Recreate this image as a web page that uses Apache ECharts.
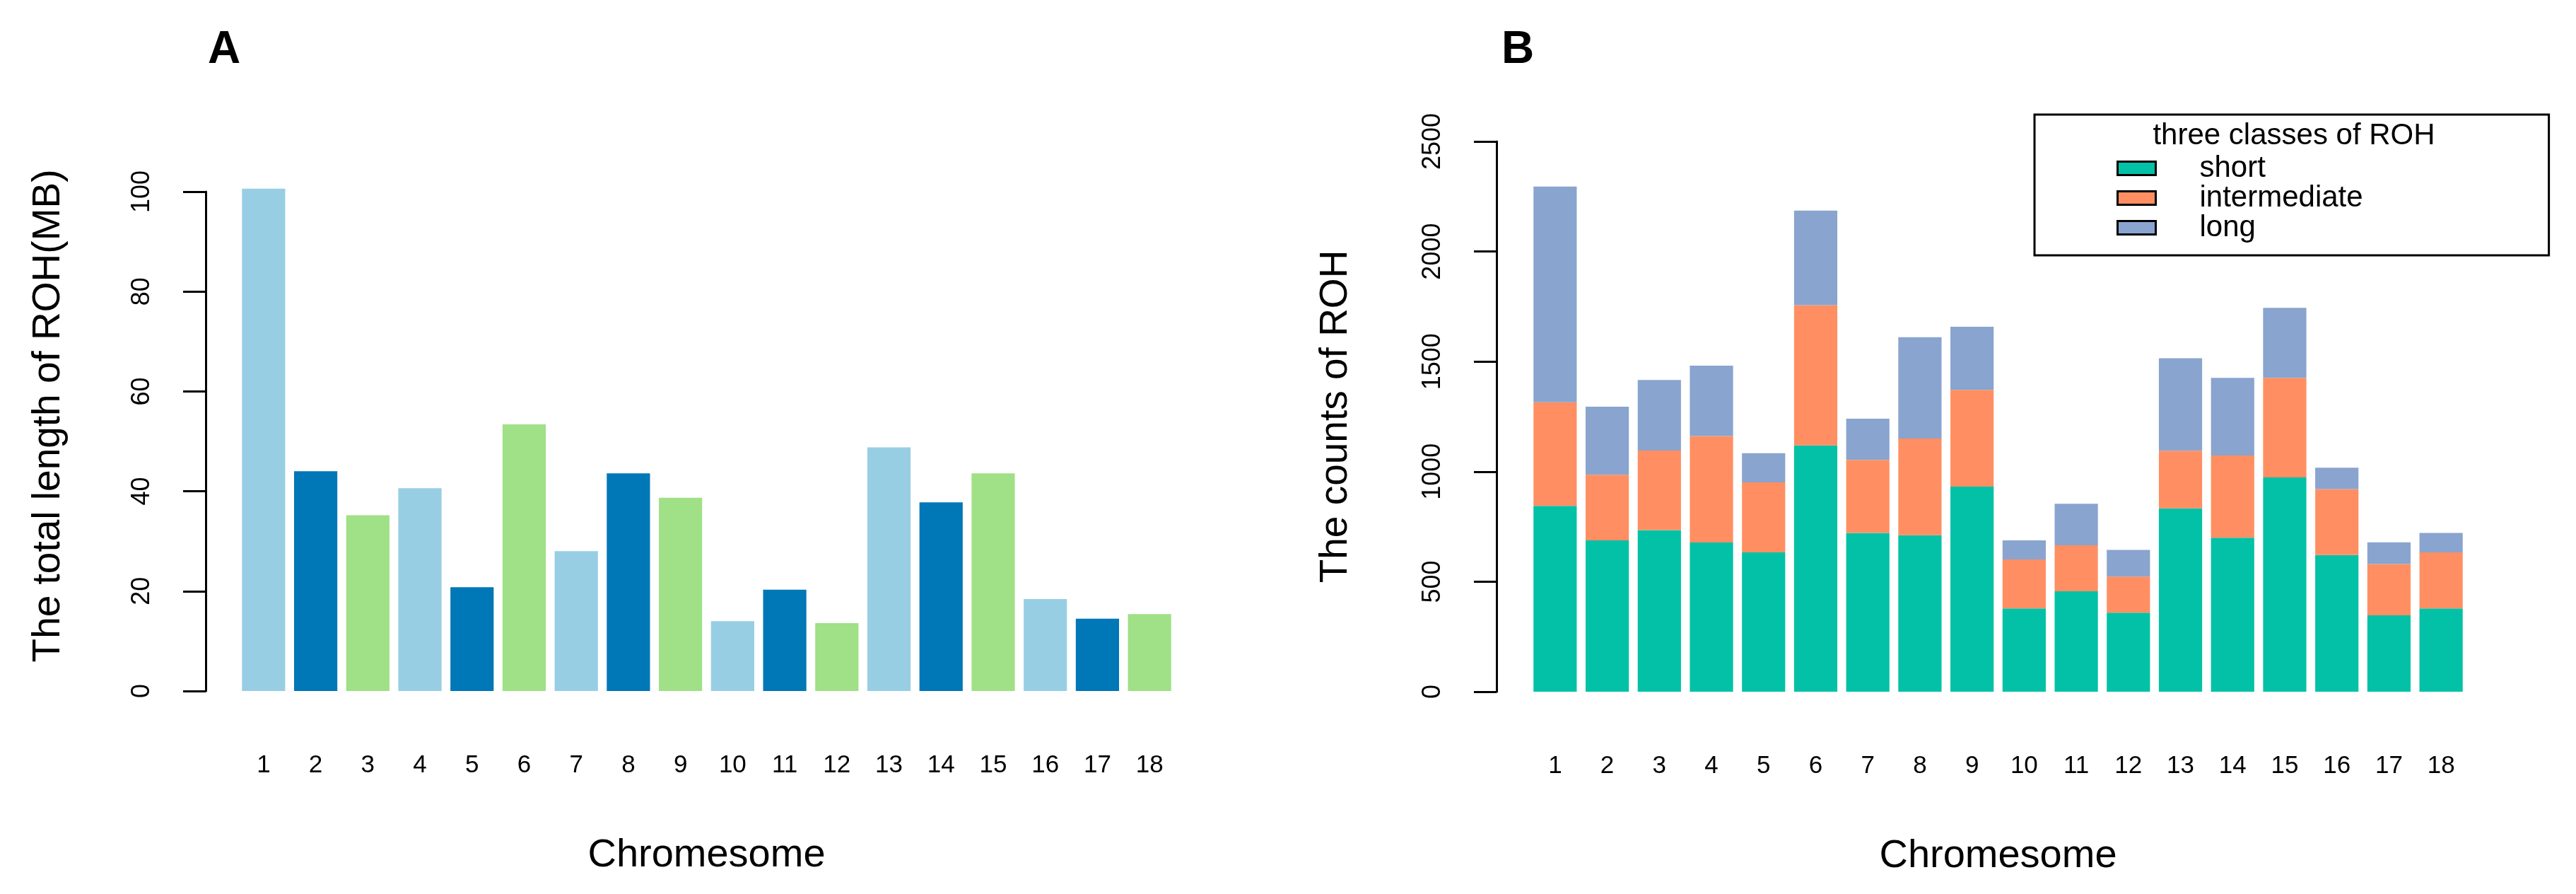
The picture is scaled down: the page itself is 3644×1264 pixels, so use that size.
<!DOCTYPE html>
<html>
<head>
<meta charset="utf-8">
<script src="https://cdn.jsdelivr.net/npm/echarts@6/dist/echarts.min.js"></script>
<style>
html,body{margin:0;padding:0;background:#fff;}
#chart{width:3644px;height:1264px;}
</style>
</head>
<body>
<div id="chart"></div>
<script>
// ---- data ----
const chromosomes = ['1','2','3','4','5','6','7','8','9','10','11','12','13','14','15','16','17','18'];
const totalLengthMB = [100.6, 44.0, 35.2, 40.6, 20.8, 53.4, 28.0, 43.6, 38.7, 14.0, 20.3, 13.6, 48.8, 37.8, 43.6, 18.4, 14.5, 15.4];
const colorsA = ['#98CEE4', '#0077B6', '#A0E086'];
const classNames = ['short', 'intermediate', 'long'];
const shortCounts = [844, 688, 734, 678, 633, 1119, 721, 711, 932, 378, 456, 359, 833, 700, 974, 621, 347, 378];
const intermediateCounts = [471, 298, 362, 484, 318, 637, 332, 439, 439, 223, 209, 164, 262, 373, 452, 300, 233, 255];
const longCounts = [980, 309, 320, 319, 133, 430, 187, 461, 287, 87, 189, 121, 420, 353, 318, 97, 99, 88];
const colorsB = ['#02C1A6', '#FF8F62', '#89A4CE'];
const yTicksA = {min: 0, max: 100, interval: 20};
const yTicksB = {min: 0, max: 2500, interval: 500};

const FONT = '"Liberation Sans", Arial, Helvetica, sans-serif';
const chart = echarts.init(document.getElementById('chart'), null, {renderer: 'canvas'});

function yAxisCommon(name, ticks, idx, offset, nameGap, namePad) {
  return {
    type: 'value', gridIndex: idx, min: ticks.min, max: ticks.max, interval: ticks.interval,
    offset: offset,
    name: name, nameLocation: 'middle', nameRotate: 90, nameGap: nameGap,
    nameTextStyle: {fontFamily: FONT, fontSize: 55, color: '#000', padding: namePad},
    axisLine: {show: true, lineStyle: {color: '#000', width: 3}},
    axisTick: {show: true, length: 32, lineStyle: {color: '#000', width: 3}},
    axisLabel: {rotate: 90, margin: 72, fontFamily: FONT, fontSize: 36, color: '#000',
      formatter: function (v) { return String(v); }},
    splitLine: {show: false}
  };
}
function xAxisCommon(idx) {
  return {
    type: 'category', gridIndex: idx, data: chromosomes,
    name: 'Chromesome', nameLocation: 'middle', nameGap: 205,
    nameTextStyle: {fontFamily: FONT, fontSize: 56, color: '#000'},
    axisLine: {show: false}, axisTick: {show: false},
    axisLabel: {margin: 88, fontFamily: FONT, fontSize: 35, color: '#000', interval: 0}
  };
}

const option = {
  animation: false,
  backgroundColor: '#fff',
  textStyle: {fontFamily: FONT},
  title: [
    {text: 'A', left: 312, top: 34, textAlign: 'center', textStyle: {fontFamily: FONT, fontSize: 64, fontWeight: 'bold', color: '#000'}},
    {text: 'B', left: 2142, top: 34, textAlign: 'center', textStyle: {fontFamily: FONT, fontSize: 64, fontWeight: 'bold', color: '#000'}},
    {text: 'three classes of ROH', left: 3240, top: 166, textAlign: 'center', textStyle: {fontFamily: FONT, fontSize: 42, fontWeight: 'normal', color: '#000'}}
  ],
  legend: {
    data: classNames.map(n => ({name: n, icon: 'rect'})),
    orient: 'vertical',
    left: 2878, top: 162,
    padding: [55, 263, 18, 116],
    borderColor: '#000', borderWidth: 3,
    itemWidth: 54, itemHeight: 19, itemGap: 0,
    itemStyle: {borderColor: '#000', borderWidth: 3},
    textStyle: {fontFamily: FONT, fontSize: 42, color: '#000', lineHeight: 37, padding: [0, 0, 0, 57]},
    selectedMode: false
  },
  grid: [
    {left: 336, right: 3644 - 1663, top: 271, bottom: 1264 - 977},
    {left: 2163, right: 3644 - 3490, top: 200, bottom: 1264 - 978}
  ],
  xAxis: [xAxisCommon(0), xAxisCommon(1)],
  yAxis: [
    yAxisCommon('The total length of ROH(MB)', yTicksA, 0, 45, 195, [0, 0, 0, 72]),
    yAxisCommon('The counts of ROH', yTicksB, 1, 46, 200, 0)
  ],
  series: [
    {
      type: 'bar', xAxisIndex: 0, yAxisIndex: 0, barCategoryGap: '17%', clip: false,
      data: totalLengthMB.map((v, i) => ({value: v, itemStyle: {color: colorsA[i % colorsA.length]}}))
    },
    {name: classNames[0], type: 'bar', stack: 'B', xAxisIndex: 1, yAxisIndex: 1, barCategoryGap: '17%', itemStyle: {color: colorsB[0]}, data: shortCounts},
    {name: classNames[1], type: 'bar', stack: 'B', xAxisIndex: 1, yAxisIndex: 1, barCategoryGap: '17%', itemStyle: {color: colorsB[1]}, data: intermediateCounts},
    {name: classNames[2], type: 'bar', stack: 'B', xAxisIndex: 1, yAxisIndex: 1, barCategoryGap: '17%', itemStyle: {color: colorsB[2]}, data: longCounts}
  ]
};
chart.setOption(option);
</script>
</body>
</html>
